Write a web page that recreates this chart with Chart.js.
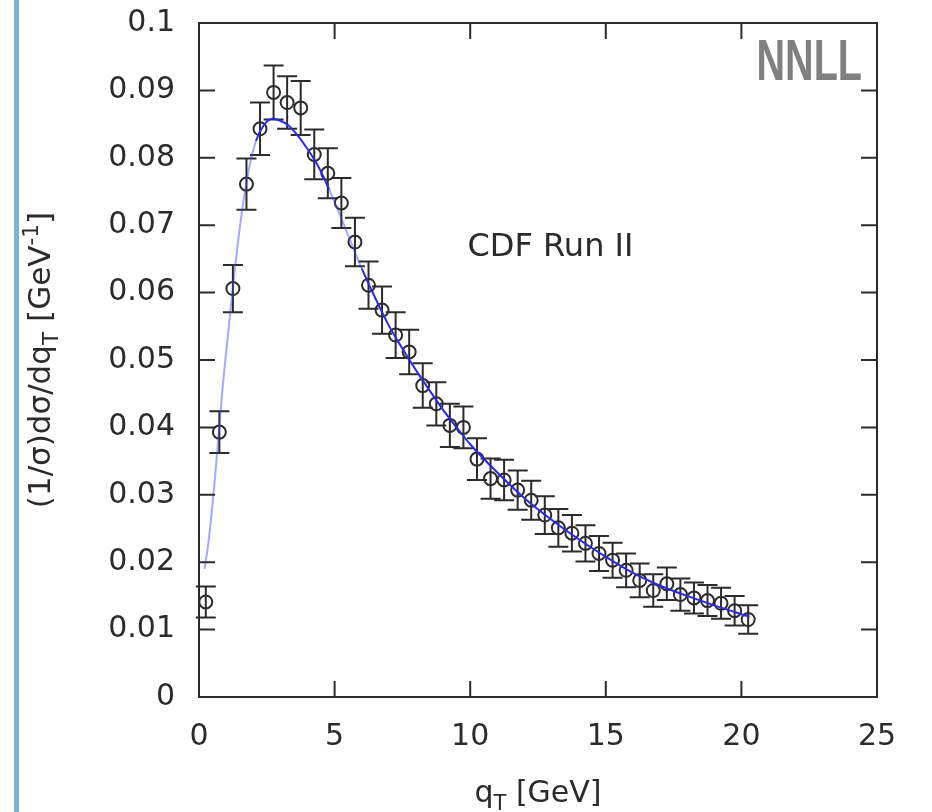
<!DOCTYPE html>
<html>
<head>
<meta charset="utf-8">
<script src="https://cdn.jsdelivr.net/npm/chart.js@4.4.1/dist/chart.umd.min.js"></script>
<style>
    html, body { margin: 0; padding: 0; background: #fff; }
    #wrap { position: relative; width: 932px; height: 812px; }
    #bar { position: absolute; left: 14px; top: 0; width: 5px; height: 812px; background: #78b4da; }
</style>
</head>
<body>
<div id="wrap">
    <canvas id="myChart"></canvas>
    <div id="bar"></div>
</div>
<script>
// CDF Run II data points (qT bin centres, normalised cross section, errors)
const qT = [0.25, 0.75, 1.25, 1.75, 2.25, 2.75, 3.25, 3.75, 4.25, 4.75,
    5.25, 5.75, 6.25, 6.75, 7.25, 7.75, 8.25, 8.75, 9.25, 9.75,
    10.25, 10.75, 11.25, 11.75, 12.25, 12.75, 13.25, 13.75, 14.25, 14.75,
    15.25, 15.75, 16.25, 16.75, 17.25, 17.75, 18.25, 18.75, 19.25, 19.75, 20.25];
const sigma = [0.0141, 0.0393, 0.0606, 0.0761, 0.0843, 0.0897, 0.0882, 0.0874, 0.0805, 0.0777,
    0.0733, 0.0675, 0.0611, 0.0574, 0.0537, 0.0512, 0.0462, 0.0435, 0.0403, 0.0400,
    0.0353, 0.0324, 0.0322, 0.0307, 0.0292, 0.0270, 0.0251, 0.0243, 0.0228, 0.0213,
    0.0203, 0.0188, 0.0173, 0.0158, 0.0168, 0.0152, 0.0147, 0.0143, 0.0139, 0.0128, 0.0115];
const sigmaErr = [0.0023, 0.0031, 0.0035, 0.0038, 0.0039, 0.0040, 0.0039, 0.0040, 0.0037, 0.0037,
    0.0037, 0.0036, 0.0035, 0.0035, 0.0034, 0.0033, 0.0033, 0.0032, 0.0032, 0.0031,
    0.0031, 0.0030, 0.0030, 0.0029, 0.0029, 0.0028, 0.0028, 0.0027, 0.0027, 0.0026,
    0.0026, 0.0025, 0.0025, 0.0024, 0.0024, 0.0024, 0.0023, 0.0023, 0.0023, 0.0022, 0.0021];

// NNLL prediction
const curveQT = [0.2, 0.35, 0.6, 0.85, 1.1, 1.35, 1.6, 1.85, 2.1, 2.4, 2.7, 3.0, 3.3, 3.6,
    4.0, 4.4, 4.8, 5.2, 5.6, 6.0, 6.5, 7.0, 7.5, 8.0, 8.5, 9.0, 9.5, 10.0,
    11.0, 12.0, 13.0, 14.0, 15.0, 16.0, 17.0, 18.0, 19.0, 20.3];
const curveSigma = [0.019, 0.023, 0.033, 0.045, 0.055, 0.0645, 0.0725, 0.0785, 0.0825, 0.0849, 0.0858, 0.0855, 0.0848, 0.0835,
    0.0813, 0.0787, 0.0753, 0.0715, 0.0675, 0.0636, 0.0592, 0.0551, 0.0517, 0.0485, 0.0455, 0.0426, 0.0400, 0.0375,
    0.0333, 0.0295, 0.0263, 0.0234, 0.0208, 0.0184, 0.0165, 0.0150, 0.0136, 0.0119];

const xTicks = [0, 5, 10, 15, 20, 25];
const yTicks = [0, 0.01, 0.02, 0.03, 0.04, 0.05, 0.06, 0.07, 0.08, 0.09, 0.1];

const INK = "#2b2b2b";
const FONT = "DejaVu Sans";

// draws a run of text pieces, some as sub/superscripts
function drawRich(ctx, parts, size, x, y) {
    let total = 0;
    parts.forEach(p => {
        ctx.font = `${p.s ? size * 0.7 : size}px "${FONT}"`;
        p.w = ctx.measureText(p.t).width;
        total += p.w;
    });
    let cx = x - total / 2;
    ctx.textAlign = "left";
    ctx.textBaseline = "alphabetic";
    parts.forEach(p => {
        ctx.font = `${p.s ? size * 0.7 : size}px "${FONT}"`;
        const dy = p.s === "sub" ? size * 0.25 : p.s === "sup" ? -size * 0.4 : 0;
        ctx.fillText(p.t, cx, y + dy);
        cx += p.w;
    });
}

const errorBars = {
    id: "errorBars",
    beforeDatasetsDraw(chart) {
        const {ctx, scales: {x, y}} = chart;
        ctx.save();
        ctx.strokeStyle = INK;
        ctx.lineWidth = 2;
        qT.forEach((q, i) => {
            const px = x.getPixelForValue(q);
            const top = y.getPixelForValue(sigma[i] + sigmaErr[i]);
            const bot = y.getPixelForValue(sigma[i] - sigmaErr[i]);
            ctx.beginPath();
            ctx.moveTo(px, top); ctx.lineTo(px, bot);
            ctx.moveTo(px - 10, top); ctx.lineTo(px + 10, top);
            ctx.moveTo(px - 10, bot); ctx.lineTo(px + 10, bot);
            ctx.stroke();
        });
        ctx.restore();
    }
};

const frameAndText = {
    id: "frameAndText",
    afterDatasetsDraw(chart) {
        const {ctx, chartArea: a, scales: {x, y}} = chart;
        ctx.save();
        ctx.strokeStyle = INK;
        ctx.lineWidth = 2;
        ctx.strokeRect(a.left, a.top, a.right - a.left, a.bottom - a.top);
        ctx.beginPath();
        yTicks.forEach(v => {
            const py = y.getPixelForValue(v);
            ctx.moveTo(a.left, py); ctx.lineTo(a.left + 16, py);
            ctx.moveTo(a.right, py); ctx.lineTo(a.right - 16, py);
        });
        xTicks.forEach(v => {
            const px = x.getPixelForValue(v);
            ctx.moveTo(px, a.bottom); ctx.lineTo(px, a.bottom - 16);
            ctx.moveTo(px, a.top); ctx.lineTo(px, a.top + 16);
        });
        ctx.stroke();

        ctx.fillStyle = INK;
        ctx.font = `32px "${FONT}"`;
        ctx.textAlign = "left";
        ctx.textBaseline = "middle";
        ctx.fillText("CDF Run II", x.getPixelForValue(9.9), y.getPixelForValue(0.0666));

        // axis titles
        drawRich(ctx, [{t: "q"}, {t: "T", s: "sub"}, {t: " [GeV]"}], 30, (a.left + a.right) / 2, 802);
        ctx.save();
        ctx.translate(50, (a.top + a.bottom) / 2);
        ctx.rotate(-Math.PI / 2);
        drawRich(ctx, [{t: "(1/σ)dσ/dq"}, {t: "T", s: "sub"}, {t: " [GeV"}, {t: "-1", s: "sup"}, {t: "]"}], 31, 0, 0);
        ctx.restore();

        // NNLL tag
        ctx.save();
        ctx.fillStyle = "#808080";
        ctx.font = `bold 46px "Liberation Sans"`;
        ctx.textAlign = "right";
        ctx.textBaseline = "alphabetic";
        ctx.translate(a.right - 15, 80);
        ctx.scale(0.86, 1.24);
        ctx.fillText("NNLL", 0, 0);
        ctx.restore();
        ctx.restore();
    }
};

Chart.defaults.font.family = FONT;

const ctx = document.getElementById("myChart").getContext("2d");
new Chart(ctx, {
    type: "line",
    data: {
        datasets: [
            {
                label: "NNLL",
                data: curveQT.map((q, i) => ({x: q, y: curveSigma[i]})),
                borderColor: "#2a2ae6",
                borderWidth: 2,
                pointRadius: 0,
                cubicInterpolationMode: "monotone",
                order: 0,
                segment: {
                    borderColor: c => {
                        const slope = Math.abs((c.p1.y - c.p0.y) / (c.p1.x - c.p0.x));
                        return slope > 2.2 ? "rgba(60,60,255,0.45)" : "#2a2ae6";
                    }
                }
            },
            {
                label: "CDF Run II",
                data: qT.map((q, i) => ({x: q, y: sigma[i]})),
                showLine: false,
                pointStyle: "circle",
                pointRadius: 6.5,
                pointBorderWidth: 2,
                pointBorderColor: INK,
                pointBackgroundColor: "rgba(0,0,0,0)",
                order: 1
            }
        ]
    },
    options: {
        responsive: true,
        maintainAspectRatio: false,
        animation: false,
        devicePixelRatio: 1,
        layout: {padding: {top: 23, right: 55, left: 0, bottom: 0}},
        plugins: {
            legend: {display: false},
            tooltip: {enabled: false}
        },
        scales: {
            x: {
                type: "linear",
                min: 0,
                max: 25,
                afterBuildTicks: s => { s.ticks = xTicks.map(v => ({value: v})); },
                afterFit: s => { s.height = 115; s.paddingLeft = 0; s.paddingRight = 0; },
                grid: {display: false, drawTicks: false},
                border: {display: false},
                ticks: {font: {size: 30}, color: INK, padding: 22, maxRotation: 0}
            },
            y: {
                type: "linear",
                min: 0,
                max: 0.1,
                afterBuildTicks: s => { s.ticks = yTicks.map(v => ({value: v})); },
                afterFit: s => { s.width = 199; s.paddingTop = 0; s.paddingBottom = 0; },
                grid: {display: false, drawTicks: false},
                border: {display: false},
                ticks: {
                    font: {size: 30},
                    color: INK,
                    padding: 24,
                    callback: v => String(+v.toFixed(2))
                }
            }
        }
    },
    plugins: [errorBars, frameAndText]
});
</script>
</body>
</html>
